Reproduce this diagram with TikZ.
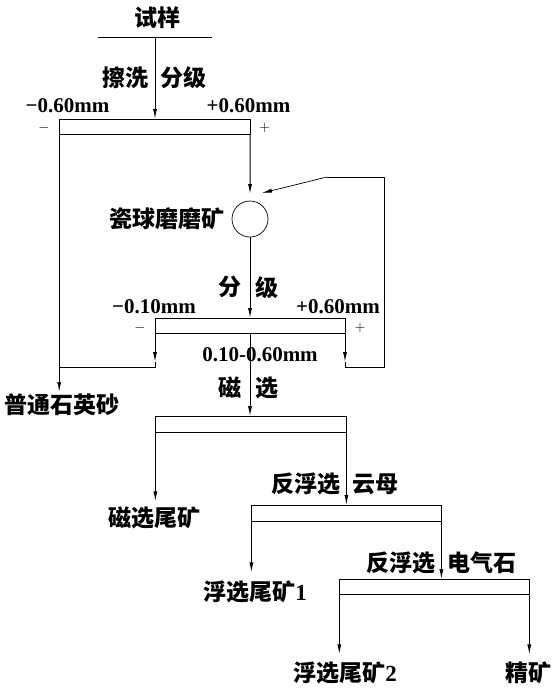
\documentclass[tikz,border=0pt]{standalone}
\usepackage{fontspec}
\newfontfamily\cjk{Noto Sans CJK SC}
\newfontfamily\numfont{Liberation Serif}
\usetikzlibrary{arrows.meta}

\begin{document}
\begin{tikzpicture}[x=1pt,y=-1pt,line width=0.7pt,
    >={Latex[length=10pt,width=4pt]},
    zh/.style={inner sep=0pt,font=\cjk\bfseries\fontsize{23}{26}\selectfont},
    size/.style={inner sep=0pt,font=\numfont\bfseries\fontsize{21}{24}\selectfont},
    sgn/.style={inner sep=0pt,font=\fontsize{15}{16}\selectfont},
    screen/.style={draw,rectangle,inner sep=0pt,outer sep=0pt,minimum width=190pt,minimum height=15pt},
    flow/.style={->,line width=1pt}]
  \useasboundingbox (0,0) rectangle (560,697);
  % feed and scrubbing
  \node[zh] (feed) at (157,17.5) {试样};
  \coordinate (barL) at (98,37);
  \coordinate (barR) at (212,37);
  \coordinate (bar) at (155,37);
  \draw (barL) -- (barR);
  \node[screen,minimum width=191pt] (scr1) at (154.7,126.5) {};
  \draw[flow] (bar) -- node[zh,pos=0.5,left=6pt] {擦洗} node[zh,pos=0.5,right=5pt] {分级} (bar |- scr1.north);
  \node[size] (m060) at (67.5,106) {−0.60mm};
  \node[size] (p060) at (248.5,106) {+0.60mm};
  \node[sgn] (minus1) at (44,128) {$-$};
  \node[sgn] (plus1) at (264.5,128) {$+$};
  % ball mill
  \node[draw,circle,minimum size=36pt,inner sep=0pt,outer sep=0pt] (mill) at (250,219) {};
  \node[zh,left=7pt] (millname) at (mill.west) {瓷球磨磨矿};
  \draw[flow,shorten >=7pt] (scr1.south east) -- (mill.north);
  % second classification
  \node[screen] (scr2) at (250,325.5) {};
  \draw[flow] (mill.south) -- node[zh,pos=0.62,left=8pt] {分} node[zh,pos=0.62,right=5pt] {级} (scr2.north);
  \node[size] (m010) at (154,306.5) {−0.10mm};
  \node[size] (p060b) at (338,306.5) {+0.60mm};
  \node[sgn] (minus2) at (140,328) {$-$};
  \node[sgn] (plus2) at (360,328) {$+$};
  % coarse back to the mill
  \coordinate (ret1) at (345,362);
  \coordinate (ret2) at (345,367);
  \coordinate (ret3) at (384,367);
  \coordinate (ret4) at (384,177);
  \coordinate (ret5) at (327,177);
  \coordinate (ret6) at (262,193);
  \draw[flow] (scr2.south east) -- (ret1);
  \draw (ret1) -- (ret2) -- (ret3) -- (ret4) -- (ret5);
  \draw[->] (ret5) -- (ret6);
  % fines
  \node[zh,outer sep=2pt] (sand) at (62,405) {普通石英砂};
  \coordinate (fin1) at (155,362);
  \coordinate (fin2) at (155,367);
  \draw[flow] (scr1.south west) -- (scr1.south west |- sand.north);
  \draw[flow] (scr2.south west) -- (fin1);
  \draw (fin1) -- (fin2) -- (fin2 -| scr1.south west);
  % magnetic separation
  \node[screen,minimum width=191pt,minimum height=16pt] (scr3) at (250.9,424.2) {};
  \draw[flow] (scr2.south) -- node[zh,pos=0.66,left=8pt] {磁} node[zh,pos=0.66,right=5pt] {选} (scr2.south |- scr3.north);
  \node[size] (mid) at (260,355) {0.10-0.60mm};
  \node[zh,outer sep=5pt] (magt) at (154.3,517.5) {磁选尾矿};
  \draw[flow] (scr3.south west) -- (scr3.south west |- magt.north);
  % reverse flotation, mica
  \node[screen,minimum height=16pt] (scr4) at (346.4,513) {};
  \draw[flow] (scr3.south east) -- node[zh,pos=0.71,left=5pt] {反浮选} node[zh,pos=0.71,right=6pt] {云母} (scr3.south east |- scr4.north);
  \node[zh,outer sep=8pt] (flt1) at (255,591.5) {浮选尾矿{\numfont 1}};
  \draw[flow] (scr4.south west) -- (scr4.south west |- flt1.north);
  % reverse flotation, tourmaline
  \node[screen] (scr5) at (434.3,586.7) {};
  \draw[flow] (scr4.south east) -- node[zh,pos=0.72,left=5pt] {反浮选} node[zh,pos=0.72,right=6pt] {电气石} (scr4.south east |- scr5.north);
  \node[zh,outer sep=7pt] (flt2) at (345,672.5) {浮选尾矿{\numfont 2}};
  \node[zh,outer sep=7pt] (conc) at (528.5,672.5) {精矿};
  \draw[flow] (scr5.south west) -- (scr5.south west |- flt2.north);
  \draw[flow] (scr5.south east) -- (scr5.south east |- conc.north);
\end{tikzpicture}
\end{document}
